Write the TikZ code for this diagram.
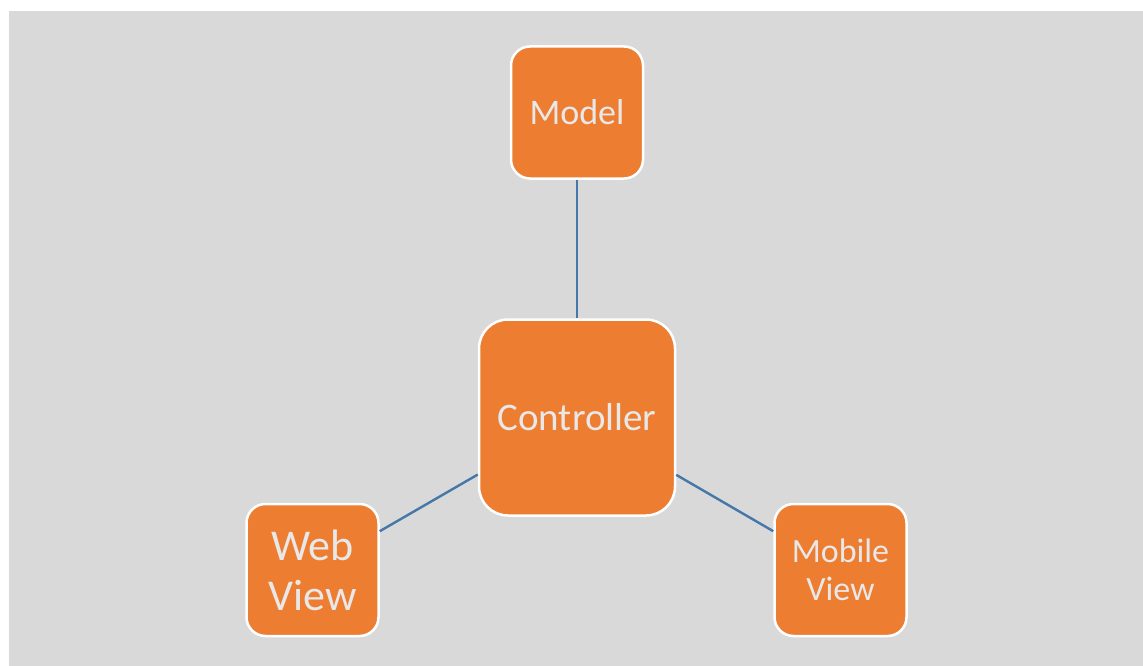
\documentclass[tikz,border=0pt]{standalone}
\usepackage{fontspec}
\setmainfont{Carlito}
\definecolor{panel}{HTML}{D9D9D9}
\definecolor{boxfill}{HTML}{ED7D31}
\definecolor{boxtext}{HTML}{E8E8E8}
\definecolor{link}{HTML}{4577A8}
\begin{document}
\begin{tikzpicture}[x=1pt,y=-1pt,
  box/.style={draw=white, line width=2.5pt, fill=boxfill, text=boxtext,
    inner sep=0pt, align=center, minimum width=132pt, minimum height=132pt,
    rounded corners=19pt},
  link/.style={draw=link, line width=2.4pt}]
  \useasboundingbox (0,0) rectangle (1143,666);
  \fill[white] (0,0) rectangle (1143,666);
  \fill[panel] (9,11) rectangle (1143,666);

  \node[box, font=\fontsize{36}{40}\selectfont] (model) at (577,112.5) {Model};
  \node[box, minimum width=196pt, minimum height=196pt, rounded corners=29pt,
        font=\fontsize{39}{44}\selectfont] (ctrl) at (577,417.5) {Controller};
  \node[box, font=\fontsize{44}{50}\selectfont] (web) at (312.5,570) {Web\\View};
  \node[box, font=\fontsize{34}{38}\selectfont] (mobile) at (840.5,570) {Mobile\\View};

  \draw[link] (model) -- (ctrl);
  \draw[link] (web) -- (ctrl);
  \draw[link] (ctrl) -- (mobile);
\end{tikzpicture}
\end{document}
